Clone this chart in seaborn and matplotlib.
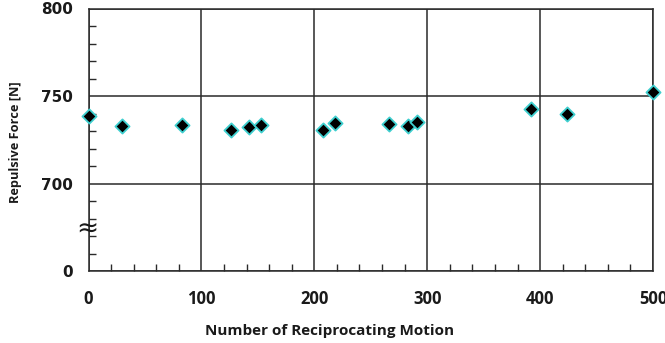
import matplotlib
matplotlib.use('Agg')
import matplotlib.pyplot as plt
import seaborn as sns
import pandas as pd
from matplotlib.ticker import MultipleLocator, FixedLocator

# Data
cycles = [0, 30, 83, 126, 142, 153, 208, 218, 266, 283, 291, 392, 424, 500]
force = [738.3, 733.0, 733.6, 730.7, 732.1, 733.4, 730.3, 734.3, 734.0, 732.6, 735.4, 742.6, 739.6, 752.2]

# Broken y axis: the bottom tick stands for 0
ytick_values = [650, 700, 750, 800]
ytick_labels = ['0', '700', '750', '800']
xtick_values = [0, 100, 200, 300, 400, 500]
xtick_labels = ['0', '100', '200', '300', '400', '500']

df = pd.DataFrame({'cycles': cycles, 'force': force})

sns.set_style('white')
fig = plt.figure(figsize=(6.65, 3.43), dpi=100)
W, H = 665, 343
x0, x1, ytop, ybot = 88.5, 653, 8.5, 271
ax = fig.add_axes([x0 / W, 1 - ybot / H, (x1 - x0) / W, (ybot - ytop) / H])

sns.scatterplot(data=df, x='cycles', y='force', marker='D', s=52, color='black',
                edgecolor='#3ecfcf', linewidth=1.3, ax=ax, zorder=5, clip_on=False)

ax.set_xlim(0, 500)
ax.set_ylim(650, 800)
ax.xaxis.set_major_locator(FixedLocator(xtick_values))
ax.set_xticklabels(xtick_labels)
ax.yaxis.set_major_locator(FixedLocator(ytick_values))
ax.set_yticklabels(ytick_labels)
ax.xaxis.set_minor_locator(MultipleLocator(20))
ax.yaxis.set_minor_locator(MultipleLocator(10))

ax.grid(True, which='major', color='#2a2a2a', linewidth=1.1)
for sp in ax.spines.values():
    sp.set_visible(True)
    sp.set_color('#2a2a2a')
    sp.set_linewidth(1.1)

ax.tick_params(axis='both', which='major', length=0)
ax.tick_params(axis='y', which='major', pad=11)
ax.tick_params(axis='x', which='major', pad=14)
ax.tick_params(axis='both', which='minor', direction='in', length=5, width=1.0,
               color='#2a2a2a', left=True, bottom=True, top=False, right=False)

for lab in ax.get_xticklabels():
    lab.set_fontfamily('Open Sans')
    lab.set_fontweight('bold')
    lab.set_fontsize(12)
    lab.set_color('#1a1a1a')
for lab in ax.get_yticklabels():
    lab.set_fontfamily('DejaVu Sans')
    lab.set_fontweight('bold')
    lab.set_fontsize(11)
    lab.set_color('#1a1a1a')

ax.set_xlabel('Number of Reciprocating Motion', fontfamily='Open Sans',
              fontweight='bold', fontsize=11, color='#1a1a1a')
ax.xaxis.set_label_coords((330 - x0) / (x1 - x0), -(331 - ybot) / (ybot - ytop))
ax.xaxis.label.set_va('center')
ax.set_ylabel('Repulsive Force [N]', fontfamily='Open Sans',
              fontweight='bold', fontsize=9.2, color='#1a1a1a')
ax.yaxis.set_label_coords(-(x0 - 15) / (x1 - x0), (ybot - 142) / (ybot - ytop))
ax.yaxis.label.set_va('center')

# break marker
ax.text(-1, 674, '\u2248', ha='center', va='center', fontsize=19, color='#1a1a1a',
        clip_on=False, zorder=6)

fig.savefig('out.png', dpi=100)
